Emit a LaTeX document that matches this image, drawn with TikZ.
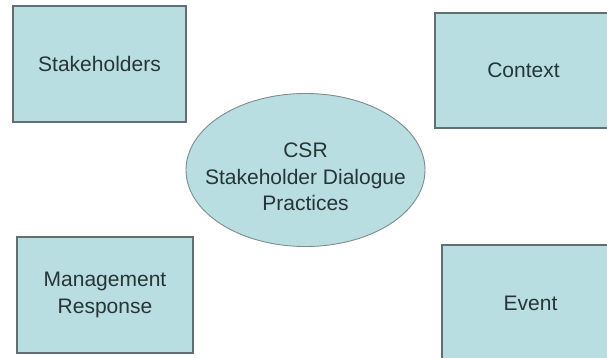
\documentclass[tikz,border=0pt]{standalone}
\usepackage{fontspec}
\setmainfont{Liberation Sans}
\usetikzlibrary{shapes.geometric}
\definecolor{boxfill}{RGB}{184,222,226}
\definecolor{boxline}{RGB}{96,112,114}
\definecolor{boxtext}{RGB}{40,52,54}
\tikzset{
	factor/.style={draw=boxline, line width=1.4pt, fill=boxfill, text=boxtext, rectangle, inner sep=0pt, align=center, font=\fontsize{21}{26.5}\selectfont},
	practice/.style={draw=boxline!80, line width=0.9pt, fill=boxfill, ellipse, inner sep=0pt},
	practicetext/.style={text=boxtext, inner sep=0pt, align=center, font=\fontsize{21}{26.5}\selectfont}
}

\begin{document}
\begin{tikzpicture}[x=1pt,y=-1pt]
			%%%%% START %%%%%
			
			\fill[white] (0, 0) rectangle (607, 358);
			\clip (0, 0) rectangle (607, 358);
			
			\node[factor, minimum width=173pt, minimum height=116pt] (stakeholders) at (99.5, 64) {Stakeholders};
			\node[factor, minimum width=177pt, minimum height=115pt] (context) at (523.5, 70.5) {Context};
			
			\node[practice, minimum width=239pt, minimum height=153pt] (csr) at (305.5, 170) {};
			\node[practicetext] (csrtext) at (305.5, 177) {CSR\\Stakeholder Dialogue\\Practices};
			
			\node[factor, minimum width=176pt, minimum height=116pt] (management) at (105, 295) {Management\\Response};
			\node[factor, minimum width=177pt, minimum height=116pt] (event) at (530.5, 303) {Event};
			
			%%%%% END %%%%%
		\end{tikzpicture}
\end{document}
